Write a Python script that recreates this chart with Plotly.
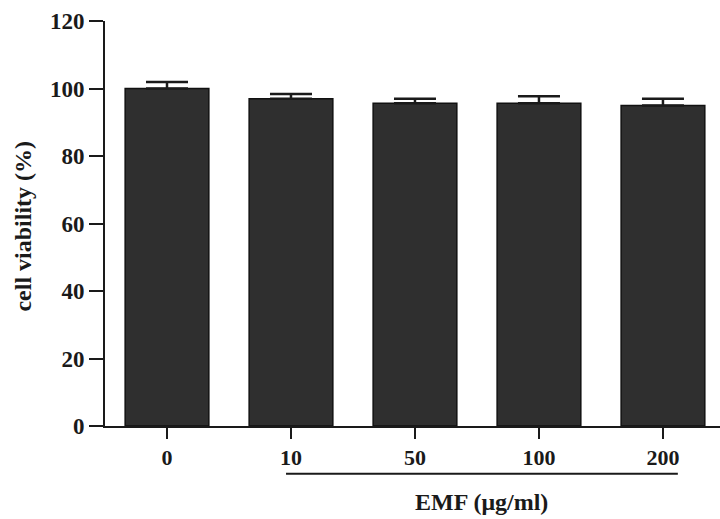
import plotly.graph_objects as go

categories = ["0", "10", "50", "100", "200"]
viability = [100.0, 97.0, 95.6, 95.6, 95.0]
error_up = [1.9, 1.4, 1.4, 2.1, 2.0]
y_ticks = [0, 20, 40, 60, 80, 100, 120]

FONT = "Liberation Serif"
INK = "#1a1a1a"

fig = go.Figure()
fig.add_trace(go.Bar(
    x=categories,
    y=viability,
    width=0.675,
    marker=dict(color="#2f2f2f", line=dict(color="#111111", width=1.5)),
    error_y=dict(type="data", symmetric=False, array=error_up,
                 arrayminus=[0] * len(error_up),
                 color=INK, thickness=2.5, width=21),
))

fig.update_layout(
    width=720, height=519,
    margin=dict(l=105, r=0, t=21, b=93),
    plot_bgcolor="white", paper_bgcolor="white",
    showlegend=False,
    font=dict(family=FONT, color=INK),
    xaxis=dict(
        type="category", range=[-0.5, 4.46],
        showline=True, linecolor=INK, linewidth=2,
        ticks="outside", ticklen=11, tickwidth=2, tickcolor=INK,
        tickfont=dict(family=FONT, size=22, color=INK, weight="bold"),
        showgrid=False, zeroline=False,
    ),
    yaxis=dict(
        range=[0, 120], tickvals=y_ticks,
        showline=True, linecolor=INK, linewidth=2,
        ticks="outside", ticklen=14, tickwidth=2, tickcolor=INK,
        tickfont=dict(family=FONT, size=23, color=INK, weight="bold"),
        showgrid=False, zeroline=False,
    ),
)

# y-axis title
fig.add_annotation(
    text="cell viability (%)", textangle=-90,
    xref="paper", yref="paper", x=-0.133, y=0.493,
    xanchor="center", yanchor="middle", showarrow=False,
    font=dict(family=FONT, size=24, color=INK, weight="bold"),
)

# grouping line for EMF concentrations and its label
fig.add_shape(
    type="line", xref="x", yref="paper",
    x0=0.96, x1=4.12, y0=-0.118, y1=-0.118,
    line=dict(color=INK, width=2),
)
fig.add_annotation(
    text="EMF (μg/ml)",
    xref="x", yref="paper", x=2.54, y=-0.188,
    xanchor="center", yanchor="middle", showarrow=False,
    font=dict(family=FONT, size=24, color=INK, weight="bold"),
)

fig.write_html(
    "out.html",
    config={"displayModeBar": False},
    post_script="document.body.style.margin='0';document.body.style.overflow='hidden';",
)
